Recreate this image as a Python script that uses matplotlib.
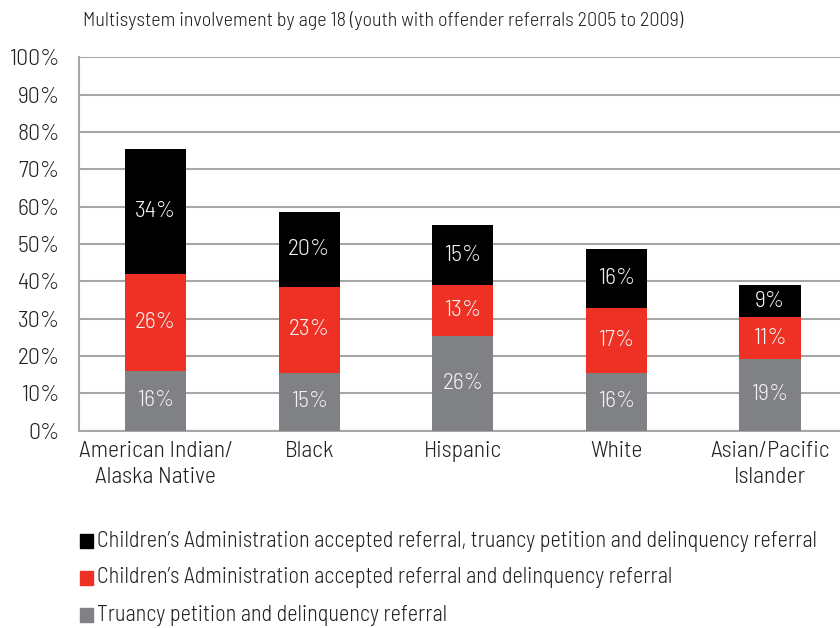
"""
Stacked bars: multisystem involvement by age 18, by race/ethnicity.
"""
import matplotlib
matplotlib.use('Agg')
import matplotlib.pyplot as plt
from matplotlib.patches import Rectangle

plt.rcParams['font.family'] = ['Barlow Semi Condensed', 'DejaVu Sans']
plt.rcParams['font.weight'] = 300

categories = ['American Indian/\nAlaska Native', 'Black', 'Hispanic', 'White',
              'Asian/Pacific\nIslander']

# segment heights (percent)
truancy = [16.1, 15.5, 25.4, 15.5, 19.2]
ca_delinq = [25.9, 23.0, 13.6, 17.4, 11.2]
ca_truancy_delinq = [33.5, 20.1, 16.1, 15.8, 8.6]

# printed labels
truancy_lbl = [16, 15, 26, 16, 19]
ca_delinq_lbl = [26, 23, 13, 17, 11]
ca_truancy_delinq_lbl = [34, 20, 15, 16, 9]

legend_labels = [
    'Children\u2019s Administration accepted referral, truancy petition and delinquency referral',
    'Children\u2019s Administration accepted referral and delinquency referral',
    'Truancy petition and delinquency referral',
]

GRAY = '#808184'
RED = '#ee3124'
BLACK = '#000000'
TEXT = '#231f20'
GRID = '#a6a6a6'

fig = plt.figure(figsize=(8.4, 6.28), dpi=100)
ax = fig.add_axes([0.094, 0.314, 0.906, 0.595])

x = range(len(categories))
w = 0.40
bottoms2 = truancy
bottoms3 = [a + b for a, b in zip(truancy, ca_delinq)]

ax.bar(x, truancy, w, color=GRAY, zorder=3)
ax.bar(x, ca_delinq, w, bottom=bottoms2, color=RED, zorder=3)
ax.bar(x, ca_truancy_delinq, w, bottom=bottoms3, color=BLACK, zorder=3)

for i in x:
    segs = [(0, truancy[i], truancy_lbl[i]),
            (bottoms2[i], ca_delinq[i], ca_delinq_lbl[i]),
            (bottoms3[i], ca_truancy_delinq[i], ca_truancy_delinq_lbl[i])]
    for b, h, lbl in segs:
        ax.text(i, b + h / 2, f'{lbl}%', ha='center', va='center',
                color='#f2f2f2', fontsize=17, zorder=4)

ax.set_ylim(0, 100)
ax.set_xlim(-0.5, 4.457)
ax.set_yticks(range(0, 101, 10))
ax.set_yticklabels([f'{v}%' for v in range(0, 101, 10)])
ax.set_xticks(list(x))
ax.set_xticklabels(categories, linespacing=1.35)
ax.tick_params(axis='both', length=0, labelsize=17, colors=TEXT)
ax.tick_params(axis='y', pad=14)
ax.tick_params(axis='x', pad=7)
ax.yaxis.grid(True, color=GRID, linewidth=1.5, zorder=0)
ax.set_axisbelow(True)
for s in ['top', 'right']:
    ax.spines[s].set_visible(False)
for s in ['left', 'bottom']:
    ax.spines[s].set_color(GRID)
    ax.spines[s].set_linewidth(1.5)

fig.text(0.099, 0.967, 'Multisystem involvement by age 18 (youth with offender referrals 2005 to 2009)',
         fontsize=14.5, color=TEXT, va='center', ha='left')

# legend built by hand to match the square swatches
for j, (lbl, col) in enumerate(zip(legend_labels, [BLACK, RED, GRAY])):
    yc = 1 - (541 + 37 * j) / 628
    fig.patches.append(Rectangle((80 / 840, yc - 7 / 628), 13 / 840, 14 / 628,
                                 transform=fig.transFigure, color=col, figure=fig))
    fig.text(97 / 840, yc, lbl, fontsize=16, color=TEXT, va='center', ha='left')

fig.savefig('out.png', dpi=100)
